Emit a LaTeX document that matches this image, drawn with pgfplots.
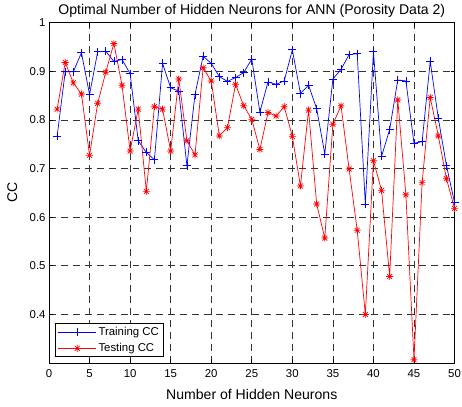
\documentclass[border=0pt]{standalone}
\usepackage{pgfplots}
\pgfplotsset{compat=1.18}
\usepackage{fontspec}
\setmainfont{Liberation Sans}
\pgfdeclareplotmark{mstar}{%
  \pgfpathmoveto{\pgfpoint{-\pgfplotmarksize}{0pt}}\pgfpathlineto{\pgfpoint{\pgfplotmarksize}{0pt}}%
  \pgfpathmoveto{\pgfpoint{0pt}{-\pgfplotmarksize}}\pgfpathlineto{\pgfpoint{0pt}{\pgfplotmarksize}}%
  \pgfpathmoveto{\pgfpoint{-0.707\pgfplotmarksize}{-0.707\pgfplotmarksize}}\pgfpathlineto{\pgfpoint{0.707\pgfplotmarksize}{0.707\pgfplotmarksize}}%
  \pgfpathmoveto{\pgfpoint{-0.707\pgfplotmarksize}{0.707\pgfplotmarksize}}\pgfpathlineto{\pgfpoint{0.707\pgfplotmarksize}{-0.707\pgfplotmarksize}}%
  \pgfusepathqstroke}
\pgfplotstableread{
x train test
1 0.766 0.822
2 0.899 0.918
3 0.899 0.876
4 0.938 0.853
5 0.852 0.727
6 0.940 0.834
7 0.941 0.898
8 0.920 0.957
9 0.924 0.871
10 0.895 0.736
11 0.757 0.822
12 0.733 0.653
13 0.718 0.827
14 0.916 0.822
15 0.866 0.736
16 0.859 0.884
17 0.706 0.757
18 0.852 0.728
19 0.931 0.907
20 0.916 0.880
21 0.889 0.767
22 0.879 0.784
23 0.887 0.873
24 0.897 0.829
25 0.925 0.801
26 0.816 0.739
27 0.878 0.815
28 0.873 0.808
29 0.880 0.827
30 0.944 0.766
31 0.854 0.664
32 0.871 0.820
33 0.823 0.627
34 0.730 0.557
35 0.884 0.791
36 0.904 0.829
37 0.934 0.699
38 0.936 0.573
39 0.627 0.400
40 0.940 0.716
41 0.725 0.655
42 0.780 0.478
43 0.882 0.841
44 0.880 0.646
45 0.752 0.307
46 0.755 0.671
47 0.920 0.846
48 0.803 0.767
49 0.706 0.679
50 0.630 0.618
}\datatable
\begin{document}
\begin{tikzpicture}
\begin{axis}[
  width=408bp, height=342.6bp, scale only axis,
  xmin=0, xmax=50, ymin=0.3, ymax=1,
  xtick={0,5,10,15,20,25,30,35,40,45,50},
  ytick={0.4,0.5,0.6,0.7,0.8,0.9,1},
  yticklabels={0.4,0.5,0.6,0.7,0.8,0.9,1},
  grid=major,
  grid style={black!80, dash pattern=on 7bp off 5bp, line width=0.7pt},
  tick align=inside, major tick length=4bp,
  axis line style={line width=0.8pt},
  every tick/.style={black, line width=0.7pt},
  /pgf/number format/assume math mode=true,
  ticklabel style={font=\fontsize{11.5}{13}\selectfont},
  xticklabel style={yshift=-3bp},
  every axis title shift=0pt,
  title={Optimal Number of Hidden Neurons for ANN (Porosity Data 2)},
  title style={font=\fontsize{14.2}{16}\selectfont, at={(axis description cs:0.5,1.0225)}, anchor=base},
  xlabel={Number of Hidden Neurons},
  xlabel style={font=\fontsize{14.2}{16}\selectfont, at={(axis description cs:0.5,-0.108)}, anchor=base},
  ylabel={CC},
  ylabel style={font=\fontsize{14.2}{16}\selectfont, at={(axis description cs:-0.0785,0.5)}, anchor=base},
  legend style={at={(axis description cs:0.014,0.0175)}, anchor=south west,
    font=\fontsize{11.5}{13}\selectfont, draw=black, line width=0.8pt,
    inner xsep=3bp, inner ysep=1.5bp, row sep=2.5bp},
  legend image code/.code={\draw[mark repeat=2,mark phase=2,#1] plot coordinates {(0bp,0bp) (19bp,0bp) (38bp,0bp)};},
  legend cell align=left,
]
\addplot[blue, line width=0.7pt, mark=+, mark size=4bp] table[x=x, y=train] {\datatable};
\addlegendentry{Training CC}
\addplot[red, line width=0.7pt, mark=mstar, mark size=3.5bp] table[x=x, y=test] {\datatable};
\addlegendentry{Testing CC}
\end{axis}
\pgfresetboundingbox
\path[use as bounding box] ([xshift=-49.3bp,yshift=-43.7bp]current axis.south west) rectangle ([xshift=7.5bp,yshift=22.7bp]current axis.north east);
\end{tikzpicture}
\end{document}
